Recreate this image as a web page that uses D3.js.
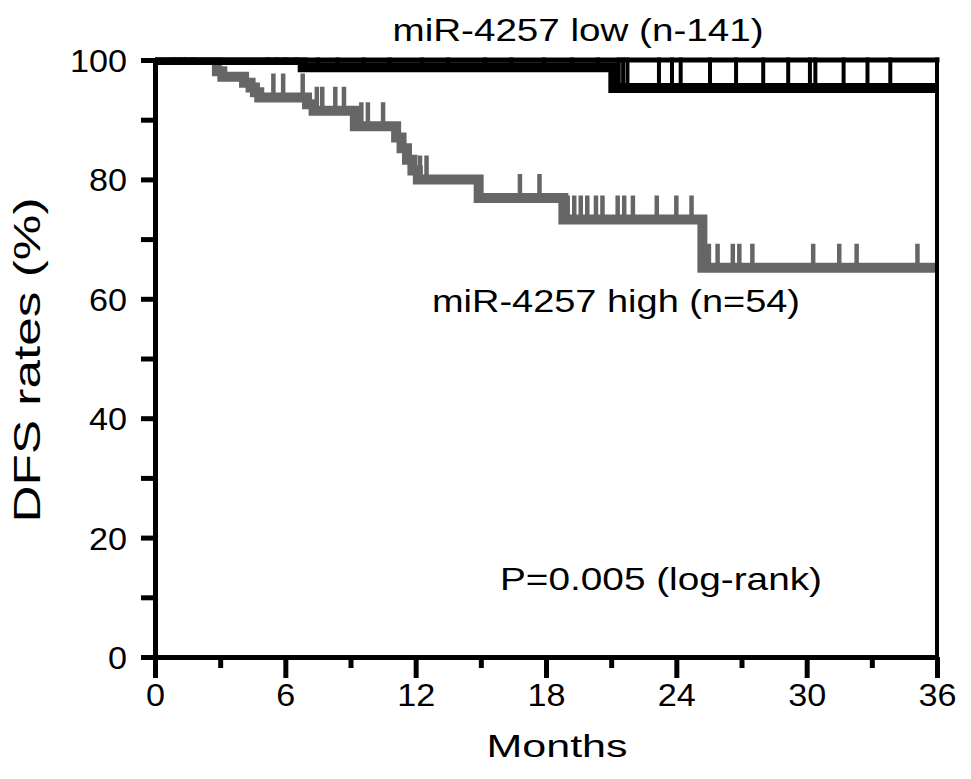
<!DOCTYPE html>
<html>
<head>
<meta charset="utf-8">
<script src="https://cdn.jsdelivr.net/npm/d3@7"></script>
<style>
  html, body { margin: 0; padding: 0; background: #fff; }
  svg { display: block; font-family: "Liberation Sans", Arial, sans-serif; }
</style>
</head>
<body>
<div id="chart"></div>
<script>
// ---- data ----
// miR-4257 low (n=141): step times (months) and survival (%)
const lowTimes = [0, 6.8, 21.1, 36];
const lowSurv = [100, 98.8, 95.3, 95.3];
// censored marks for the low group
const lowCensor = [0.85, 1.1, 1.4, 1.75, 5.2, 5.6, 6.0, 6.5,
  7.5, 8.4, 9.6, 10.8, 12.3, 13.5, 15.2, 16.4, 17.9, 19.2, 20.4,
  21.35, 21.55, 21.75, 23.2, 23.8, 24.2, 25.55, 26.75, 28.0, 29.15,
  30.15, 30.4, 31.7, 32.8, 33.85, 36.0];

// miR-4257 high (n=54)
const highTimes = [0, 2.85, 3.1, 4.1, 4.4, 4.6, 4.8, 7.0, 7.3, 9.2,
  11.1, 11.35, 11.6, 11.85, 12.1, 14.9, 18.8, 25.2, 36];
const highSurv = [100, 98.1, 97.2, 96.2, 95.4, 94.6, 93.7, 92.6, 91.5, 88.9,
  87.0, 85.2, 83.3, 81.5, 80.0, 76.9, 73.3, 65.2, 65.2];
const highCensor = [5.45, 5.9, 6.8, 7.45, 7.7, 8.3, 8.7, 9.5, 9.8, 10.5,
  12.2, 12.5, 16.8, 17.7, 19.0, 19.3, 19.6, 19.9, 20.3, 20.6, 21.3, 21.6,
  22.0, 23.1, 24.0, 24.7, 25.5, 25.9, 26.6, 26.9, 27.5, 30.3, 31.5, 32.3, 35.1];

const xMajor = [0, 6, 12, 18, 24, 30, 36];
const xMinor = [3, 9, 15, 21, 27, 33];
const yMajor = [0, 20, 40, 60, 80, 100];
const yMinor = [10, 30, 50, 70, 90];

const W = 971, H = 779;
const x = d3.scaleLinear().domain([0, 36]).range([155, 937]);
const y = d3.scaleLinear().domain([0, 100]).range([657, 60]);

const svg = d3.select("#chart").append("svg")
  .attr("width", W).attr("height", H);

svg.append("defs").append("clipPath").attr("id", "plotClip")
  .append("rect").attr("x", 150).attr("y", 57.5).attr("width", 800).attr("height", 610);

// survival value at time t for a step curve
function survAt(times, surv, t) {
  let s = surv[0];
  for (let i = 0; i < times.length; i++) if (times[i] <= t) s = surv[i];
  return s;
}

const stepLine = d3.line()
  .x(d => x(d[0]))
  .y(d => y(d[1]))
  .curve(d3.curveStepAfter);

function drawCurve(times, surv, censor, color, width, tickLen, tickW) {
  const g = svg.append("g").attr("clip-path", "url(#plotClip)");
  g.append("path")
    .datum(times.map((t, i) => [t, surv[i]]))
    .attr("d", stepLine)
    .attr("fill", "none")
    .attr("stroke", color)
    .attr("stroke-width", width);
  g.selectAll("line.censor")
    .data(censor)
    .join("line")
    .attr("class", "censor")
    .attr("x1", d => x(d)).attr("x2", d => x(d))
    .attr("y1", d => y(survAt(times, surv, d)))
    .attr("y2", d => y(survAt(times, surv, d)) - tickLen)
    .attr("stroke", color)
    .attr("stroke-width", tickW);
}

drawCurve(highTimes, highSurv, highCensor, "#666666", 10, 24, 4.5);
drawCurve(lowTimes, lowSurv, lowCensor, "#000000", 10, 31, 4);

// frame top and right
svg.append("line").attr("x1", x(0)).attr("x2", x(36) + 2.5)
  .attr("y1", y(100)).attr("y2", y(100))
  .attr("stroke", "#000").attr("stroke-width", 5);
svg.append("line").attr("x1", x(36)).attr("x2", x(36))
  .attr("y1", y(100)).attr("y2", y(0))
  .attr("stroke", "#000").attr("stroke-width", 4);

// axes
function styleAxis(g, sw) {
  g.select(".domain").attr("stroke", "#000").attr("stroke-width", sw);
  g.selectAll(".tick line").attr("stroke", "#000").attr("stroke-width", sw);
}

const xAxisMinor = svg.append("g").attr("transform", `translate(0,${y(0)})`)
  .call(d3.axisBottom(x).tickValues(xMinor).tickSize(11).tickSizeOuter(0).tickFormat(""));
styleAxis(xAxisMinor, 5);
const xAxis = svg.append("g").attr("transform", `translate(0,${y(0)})`)
  .call(d3.axisBottom(x).tickValues(xMajor).tickSize(21).tickSizeOuter(0).tickPadding(14));
styleAxis(xAxis, 5);
xAxis.selectAll(".tick text")
  .attr("font-size", 32).attr("fill", "#000")
  .attr("font-family", "Liberation Sans, Arial, sans-serif")
  .attr("dy", null).attr("y", 49)
  .attr("textLength", d => String(d).length * 19)
  .attr("lengthAdjust", "spacingAndGlyphs");

const yAxisMinor = svg.append("g").attr("transform", `translate(${x(0)},0)`)
  .call(d3.axisLeft(y).tickValues(yMinor).tickSize(14).tickSizeOuter(0).tickFormat(""));
styleAxis(yAxisMinor, 5);
const yAxis = svg.append("g").attr("transform", `translate(${x(0)},0)`)
  .call(d3.axisLeft(y).tickValues(yMajor).tickSize(14).tickSizeOuter(0).tickPadding(14));
styleAxis(yAxis, 5);
yAxis.selectAll(".tick text")
  .attr("font-size", 32).attr("fill", "#000")
  .attr("font-family", "Liberation Sans, Arial, sans-serif")
  .attr("dy", "0.36em")
  .attr("textLength", d => String(d).length * 19)
  .attr("lengthAdjust", "spacingAndGlyphs");

// labels
function label(txt, cx, by, len, size, rot) {
  const t = svg.append("text")
    .attr("text-anchor", "middle")
    .attr("font-size", size)
    .attr("fill", "#000")
    .attr("textLength", len)
    .attr("lengthAdjust", "spacingAndGlyphs")
    .text(txt);
  if (rot) t.attr("transform", `translate(${cx},${by}) rotate(-90)`);
  else t.attr("x", cx).attr("y", by);
  return t;
}

label("miR-4257 low (n-141)", 578, 41, 371, 32);
label("miR-4257 high (n=54)", 616, 312, 368, 32);
label("P=0.005 (log-rank)", 661, 590, 322, 32);
label("Months", 557, 757, 141, 32);
label("DFS rates (%)", 40, 360, 325, 36, true);
</script>
</body>
</html>
